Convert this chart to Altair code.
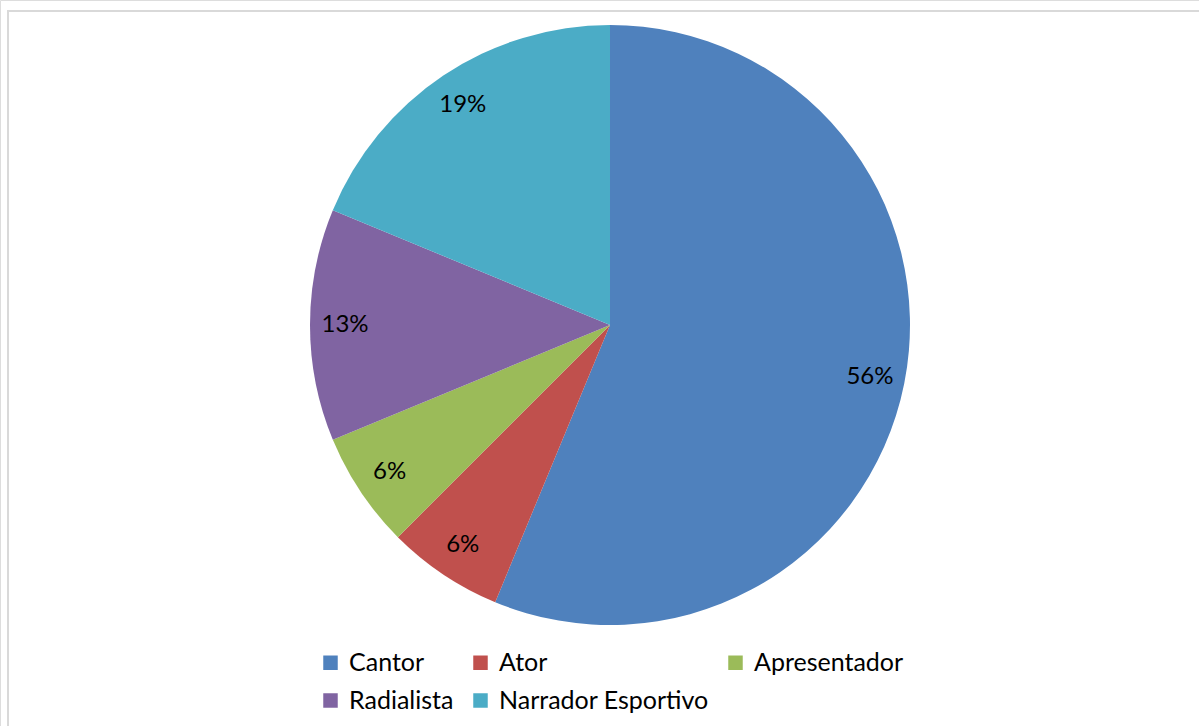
import altair as alt
import pandas as pd

categories = ["Cantor", "Ator", "Apresentador", "Radialista", "Narrador Esportivo"]
counts = [9, 1, 1, 2, 3]
colors = ["#4F81BD", "#C0504D", "#9BBB59", "#8064A2", "#4BACC6"]

total = sum(counts)
df = pd.DataFrame({
    "categoria": categories,
    "valor": counts,
    "ordem": list(range(len(categories))),
    "frac": [c / total for c in counts],
})

FONT = "Lato"
CX, CY, R = 610, 325, 300

base = alt.Chart(df).encode(
    theta=alt.Theta("valor:Q", stack=True),
    order=alt.Order("ordem:Q"),
)

pie = base.mark_arc(outerRadius=R).encode(
    x=alt.value(CX),
    y=alt.value(CY),
    color=alt.Color(
        "categoria:N",
        scale=alt.Scale(domain=categories, range=colors),
        sort=categories,
        legend=alt.Legend(
            title=None,
            orient="none",
            legendX=318,
            legendY=650,
            columns=3,
            direction="horizontal",
            columnPadding=14,
            rowPadding=12,
            symbolType="square",
            symbolSize=210,
            symbolStrokeWidth=0,
            labelFont=FONT,
            labelFontSize=25,
            labelColor="#000000",
            labelOffset=6,
            labelLimit=400,
        ),
    ),
)

labels = base.mark_text(radius=265, font=FONT, fontSize=24, color="#000000").encode(
    x=alt.value(CX),
    y=alt.value(CY),
    text=alt.Text("frac:Q", format=".0%"),
)

border = alt.Chart(alt.Data(values=[{}])).mark_rect(
    fill=None, stroke="#d9d9d9", strokeWidth=2
).encode(
    x=alt.value(8), x2=alt.value(1210), y=alt.value(11), y2=alt.value(740)
)

chart = alt.layer(border, pie, labels).properties(
    width=1199, height=726, padding=0,
    autosize=alt.AutoSizeParams(type="none"),
).configure_view(stroke=None).configure(background="white")

chart.save("out.html", embed_options={"renderer": "svg", "actions": False})
